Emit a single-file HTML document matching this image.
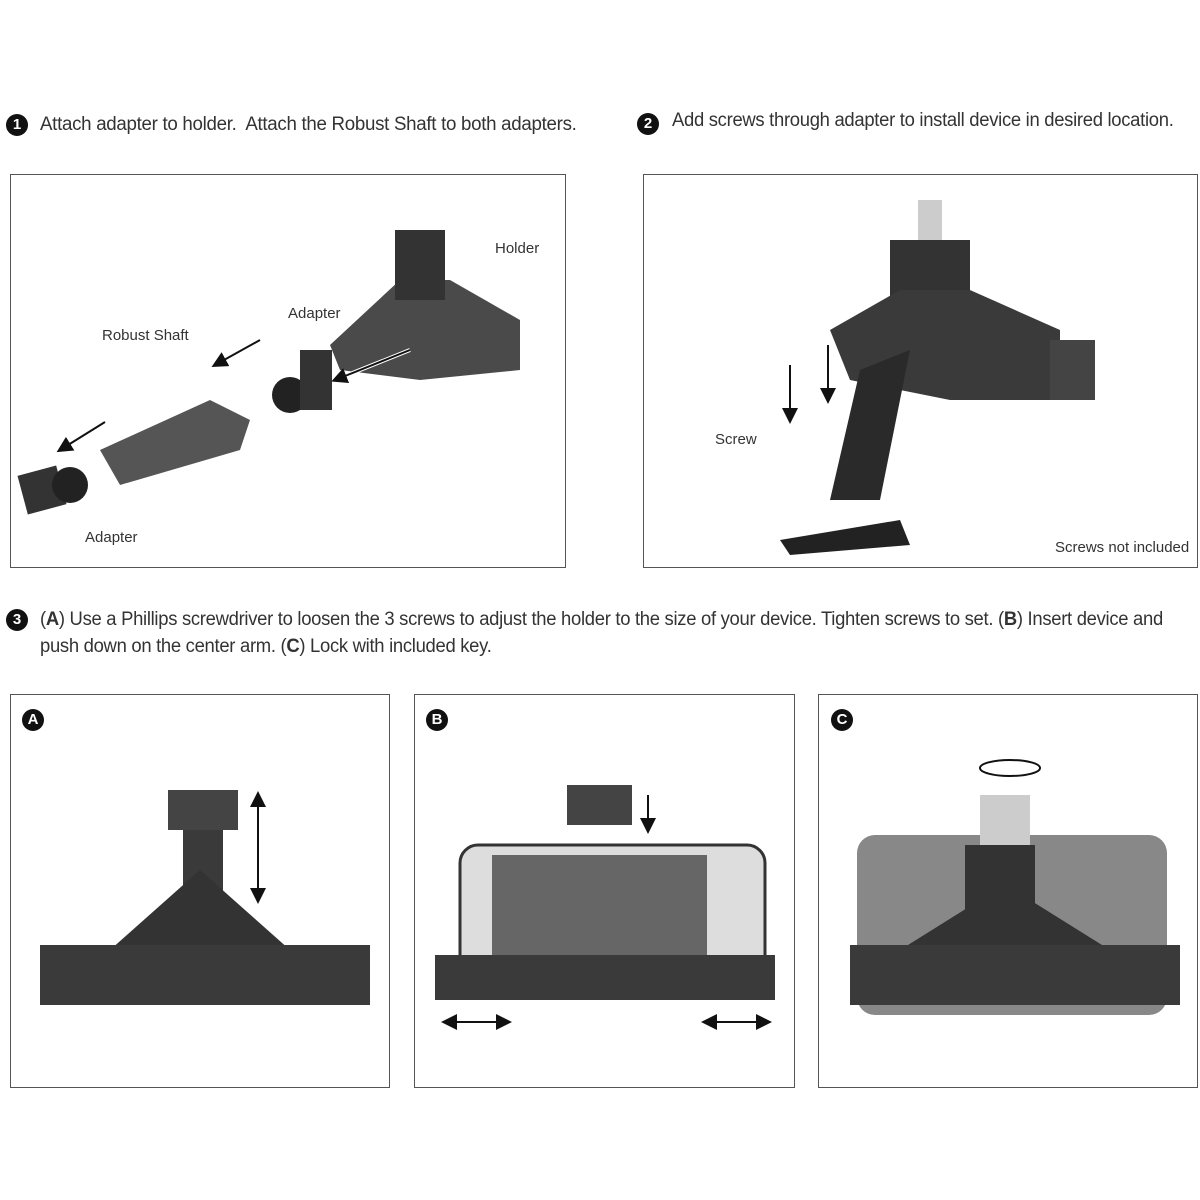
<!DOCTYPE html>
<html><head><style>
body{margin:0;width:1200px;height:1200px;background:#fff;position:relative;overflow:hidden;font-family:"Liberation Sans Narrow","Liberation Sans",sans-serif;color:#333}
.t{position:absolute;font-size:19px;white-space:nowrap;letter-spacing:-0.3px;transform-origin:0 0}
.n{position:absolute;width:22px;height:22px;border-radius:50%;background:#111;color:#fff;font-size:15px;font-weight:bold;text-align:center;line-height:22px;font-family:"Liberation Sans",sans-serif}
.box{position:absolute;border:1.5px solid #555;background:#fff}
svg{position:absolute;left:0;top:0}
.l{font-size:15px;fill:#333;font-family:"Liberation Sans Narrow","Liberation Sans",sans-serif}
</style></head><body>
<div class="n" style="left:6px;top:114px">1</div>
<div class="t" style="left:40px;top:114px;transform:scaleX(0.985)">Attach adapter to holder.&nbsp; Attach the Robust Shaft to both adapters.</div>
<div class="n" style="left:637px;top:113px">2</div>
<div class="t" style="left:672px;top:110px;transform:scaleX(0.97)">Add screws through adapter to install device in desired location.</div>
<div class="n" style="left:6px;top:609px">3</div>
<div class="t" style="left:40px;top:609px;transform:scaleX(0.97)">(<b>A</b>) Use a Phillips screwdriver to loosen the 3 screws to adjust the holder to the size of your device. Tighten screws to set. (<b>B</b>) Insert device and</div>
<div class="t" style="left:40px;top:636px;transform:scaleX(0.97)">push down on the center arm. (<b>C</b>) Lock with included key.</div>
<div class="box" style="left:10px;top:174px;width:554px;height:392px"></div>
<div class="box" style="left:643px;top:174px;width:553px;height:392px"></div>
<div class="box" style="left:10px;top:694px;width:378px;height:392px"></div>
<div class="box" style="left:414px;top:694px;width:379px;height:392px"></div>
<div class="box" style="left:818px;top:694px;width:378px;height:392px"></div>
<div class="n" style="left:22px;top:709px">A</div>
<div class="n" style="left:426px;top:709px">B</div>
<div class="n" style="left:831px;top:709px">C</div>
<svg width="1200" height="1200">
<defs><marker id="a" markerWidth="8" markerHeight="8" refX="6" refY="4" orient="auto-start-reverse"><path d="M0,0L8,4L0,8z" fill="#111"/></marker></defs>
<!-- box1 -->
<rect x="22" y="470" width="40" height="40" fill="#333" transform="rotate(-15 42 490)"/>
<circle cx="70" cy="485" r="18" fill="#222"/>
<path d="M100,450 L210,400 L250,420 L240,450 L120,485 Z" fill="#555"/>
<circle cx="290" cy="395" r="18" fill="#222"/>
<rect x="300" y="350" width="32" height="60" fill="#333"/>
<path d="M330,345 L400,280 L450,280 L520,320 L520,370 L420,380 L340,370 Z" fill="#4a4a4a"/>
<rect x="395" y="230" width="50" height="70" fill="#333"/>
<line x1="260" y1="340" x2="215" y2="365" stroke="#111" stroke-width="2" marker-end="url(#a)"/>
<line x1="105" y1="422" x2="60" y2="450" stroke="#111" stroke-width="2" marker-end="url(#a)"/>
<line x1="410" y1="350" x2="335" y2="380" stroke="#fff" stroke-width="4"/>
<line x1="410" y1="350" x2="335" y2="380" stroke="#111" stroke-width="2" marker-end="url(#a)"/>
<text class="l" x="102" y="340">Robust Shaft</text>
<text class="l" x="288" y="318">Adapter</text>
<text class="l" x="495" y="253">Holder</text>
<text class="l" x="85" y="542">Adapter</text>
<!-- box2 -->
<rect x="918" y="200" width="24" height="40" fill="#ccc"/>
<rect x="890" y="240" width="80" height="70" fill="#333"/>
<path d="M830,330 L900,290 L970,290 L1060,330 L1060,400 L950,400 L850,380 Z" fill="#3a3a3a"/>
<rect x="1050" y="340" width="45" height="60" fill="#444"/>
<path d="M860,370 L910,350 L880,500 L830,500 Z" fill="#2a2a2a"/>
<path d="M780,540 L900,520 L910,545 L790,555 Z" fill="#222"/>
<line x1="790" y1="365" x2="790" y2="420" stroke="#111" stroke-width="2" marker-end="url(#a)"/>
<line x1="828" y1="345" x2="828" y2="400" stroke="#111" stroke-width="2" marker-end="url(#a)"/>
<text class="l" x="715" y="444">Screw</text>
<text class="l" x="1055" y="552">Screws not included</text>
<!-- A -->
<rect x="168" y="790" width="70" height="40" fill="#444"/>
<rect x="183" y="830" width="40" height="90" fill="#3a3a3a"/>
<path d="M110,950 L200,870 L290,950 Z" fill="#333"/>
<rect x="40" y="945" width="330" height="60" fill="#3a3a3a"/>
<line x1="258" y1="795" x2="258" y2="900" stroke="#111" stroke-width="2" marker-start="url(#a)" marker-end="url(#a)"/>
<!-- B -->
<rect x="567" y="785" width="65" height="40" fill="#444"/>
<rect x="460" y="845" width="305" height="140" rx="18" fill="#ddd" stroke="#333" stroke-width="3"/>
<rect x="492" y="855" width="215" height="120" fill="#666"/>
<rect x="435" y="955" width="340" height="45" fill="#3a3a3a"/>
<line x1="445" y1="1022" x2="508" y2="1022" stroke="#111" stroke-width="2" marker-start="url(#a)" marker-end="url(#a)"/>
<line x1="705" y1="1022" x2="768" y2="1022" stroke="#111" stroke-width="2" marker-start="url(#a)" marker-end="url(#a)"/>
<line x1="648" y1="795" x2="648" y2="830" stroke="#111" stroke-width="2" marker-end="url(#a)"/>
<!-- C -->
<rect x="857" y="835" width="310" height="180" rx="18" fill="#888"/>
<rect x="980" y="795" width="50" height="50" fill="#ccc"/>
<rect x="965" y="845" width="70" height="70" fill="#333"/>
<path d="M900,950 L980,900 L1030,900 L1110,950 Z" fill="#333"/>
<rect x="850" y="945" width="330" height="60" fill="#3a3a3a"/>
<ellipse cx="1010" cy="768" rx="30" ry="8" fill="none" stroke="#111" stroke-width="2"/>
</svg>
</body></html>
